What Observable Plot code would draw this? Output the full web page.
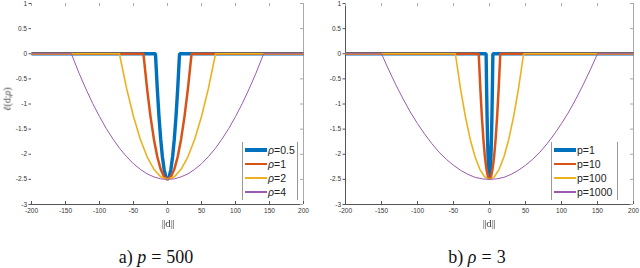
<!DOCTYPE html>
<html>
<head>
<meta charset="utf-8">
<script src="https://cdn.jsdelivr.net/npm/d3@7"></script>
<script src="https://cdn.jsdelivr.net/npm/@observablehq/plot@0.6"></script>
<style>
  html, body { margin: 0; padding: 0; background: #fff; }
  #wrap { position: relative; width: 640px; height: 268px; overflow: hidden; }
  .panel { position: absolute; top: 0; }
  .lbl { position: absolute; font-family: "Liberation Serif", "DejaVu Serif", serif; color: #444; white-space: nowrap; will-change: transform; opacity: 0.99; }
  .bars { letter-spacing: -0.5px; }
  .cap { position: absolute; font-family: "Liberation Serif", "DejaVu Serif", serif; color: #111; font-size: 18px; white-space: nowrap; transform: translate(-50%, -50%); }
  .cap .eq { margin: 0 5px; }
  .leg { position: absolute; border-left: 1px solid #999; border-right: 1px solid #999; box-sizing: border-box; }
  .row { position: absolute; left: 2px; height: 14px; display: flex; align-items: center; font-family: "Liberation Sans", Arial, sans-serif; font-size: 10.5px; color: #222; }
  .sw { display: inline-block; width: 22px; margin-right: 1px; }
</style>
</head>
<body>
<div id="wrap"></div>
<script>
// ---- data ----
const xTicks = [-200, -150, -100, -50, 0, 50, 100, 150, 200];
const yTicks = [1, 0.5, 0, -0.5, -1, -1.5, -2, -2.5, -3];

const colors = ["#0072BD", "#D95319", "#EDB120", "#9A5AAE"];
const widths = [3.4, 2.5, 1.6, 1.0];

// panel a) p = 500
const leftLabels = ["0.5", "1", "2", "4"];
const rho05X = [-200, -17.7, -15, -12.5, -10, -7.5, -5, -2.5, 0, 2.5, 5, 7.5, 10, 12.5, 15, 17.7, 200];
const rho05Y = [0, 0, -0.70, -1.25, -1.70, -2.05, -2.30, -2.45, -2.50, -2.45, -2.30, -2.05, -1.70, -1.25, -0.70, 0, 0];
const rho1X = [-200, -35.4, -30, -25, -20, -15, -10, -5, 0, 5, 10, 15, 20, 25, 30, 35.4, 200];
const rho1Y = [0, 0, -0.70, -1.25, -1.70, -2.05, -2.30, -2.45, -2.50, -2.45, -2.30, -2.05, -1.70, -1.25, -0.70, 0, 0];
const rho2X = [-200, -70.7, -60, -50, -40, -30, -20, -10, 0, 10, 20, 30, 40, 50, 60, 70.7, 200];
const rho2Y = [0, 0, -0.70, -1.25, -1.70, -2.05, -2.30, -2.45, -2.50, -2.45, -2.30, -2.05, -1.70, -1.25, -0.70, 0, 0];
const rho4X = [-200, -141.4, -130, -120, -110, -100, -90, -80, -70, -60, -50, -40, -30, -20, -10, 0,
               10, 20, 30, 40, 50, 60, 70, 80, 90, 100, 110, 120, 130, 141.4, 200];
const rho4Y = [0, 0, -0.39, -0.70, -0.99, -1.25, -1.49, -1.70, -1.89, -2.05, -2.19, -2.30, -2.39, -2.45, -2.49, -2.50,
               -2.49, -2.45, -2.39, -2.30, -2.19, -2.05, -1.89, -1.70, -1.49, -1.25, -0.99, -0.70, -0.39, 0, 0];

// panel b) rho = 3
const rightLabels = ["1", "10", "100", "1000"];
const p1X = [-200, -4.7, -4.0, -3.35, -2.7, -2.0, -1.3, -0.7, 0, 0.7, 1.3, 2.0, 2.7, 3.35, 4.0, 4.7, 200];
const p1Y = [0, 0, -0.70, -1.25, -1.70, -2.05, -2.30, -2.45, -2.50, -2.45, -2.30, -2.05, -1.70, -1.25, -0.70, 0, 0];
const p10X = [-200, -15, -12.7, -10.6, -8.5, -6.4, -4.2, -2.1, 0, 2.1, 4.2, 6.4, 8.5, 10.6, 12.7, 15, 200];
const p10Y = [0, 0, -0.70, -1.25, -1.70, -2.05, -2.30, -2.45, -2.50, -2.45, -2.30, -2.05, -1.70, -1.25, -0.70, 0, 0];
const p100X = [-200, -47.4, -40.2, -33.5, -26.8, -20.1, -13.4, -6.7, 0, 6.7, 13.4, 20.1, 26.8, 33.5, 40.2, 47.4, 200];
const p100Y = [0, 0, -0.70, -1.25, -1.70, -2.05, -2.30, -2.45, -2.50, -2.45, -2.30, -2.05, -1.70, -1.25, -0.70, 0, 0];
const p1000X = [-200, -150, -140, -130, -120, -110, -100, -90, -80, -70, -60, -50, -40, -30, -20, -10, 0,
                10, 20, 30, 40, 50, 60, 70, 80, 90, 100, 110, 120, 130, 140, 150, 200];
const p1000Y = [0, 0, -0.32, -0.62, -0.90, -1.16, -1.39, -1.60, -1.79, -1.96, -2.10, -2.22, -2.32, -2.40, -2.46, -2.49, -2.50,
                -2.49, -2.46, -2.40, -2.32, -2.22, -2.10, -1.96, -1.79, -1.60, -1.39, -1.16, -0.90, -0.62, -0.32, 0, 0];

// ---- drawing ----
function panel(series, {width, marginLeft, marginRight, leftLine}) {
  const H = 230, mt = 3, mb = 26;
  const pw = width - marginLeft - marginRight, ph = H - mt - mb;
  const marks = [];
  // frame lines
  marks.push(Plot.ruleY([-3], {stroke: "#555", strokeWidth: 1}));
  marks.push(Plot.ruleX([200], {stroke: "#aaa", strokeWidth: 1}));
  if (leftLine) marks.push(Plot.ruleX([-200], {stroke: "#555", strokeWidth: 1}));
  // inward ticks (bottom, top, right)
  marks.push(Plot.tickX(xTicks, {x: d => d, insetTop: ph - 3, stroke: "#555"}));
  marks.push(Plot.tickX(xTicks, {x: d => d, insetBottom: ph - 3, stroke: "#aaa"}));
  marks.push(Plot.tickY(yTicks, {y: d => d, insetLeft: pw - 3, stroke: "#aaa"}));
  // curves
  series.forEach((s, i) => {
    const data = s.x.map((x, j) => ({x, y: s.y[j]}));
    marks.push(Plot.line(data, {x: "x", y: "y", stroke: colors[i], strokeWidth: widths[i],
      strokeLinecap: "butt", strokeLinejoin: "miter"}));
  });
  // axes
  marks.push(Plot.axisX({ticks: xTicks, tickSize: 0, tickPadding: 4, tickFormat: d => String(d), label: null, fill: "#333"}));
  marks.push(Plot.axisY({ticks: yTicks, tickSize: 2.5, tickPadding: 2, tickFormat: d => String(d), label: null, fill: "#333", stroke: "#555"}));
  return Plot.plot({
    width, height: H, marginTop: mt, marginBottom: mb, marginLeft, marginRight,
    x: {domain: [-200, 200]}, y: {domain: [-3, 1]},
    style: {fontFamily: "'Liberation Sans', Arial, sans-serif", fontSize: "6.5px", color: "#333", background: "transparent", overflow: "visible"},
    marks
  });
}

const wrap = document.getElementById("wrap");

const left = panel([{x: rho05X, y: rho05Y}, {x: rho1X, y: rho1Y}, {x: rho2X, y: rho2Y}, {x: rho4X, y: rho4Y}],
  {width: 320, marginLeft: 31, marginRight: 17, leftLine: false});
left.classList.add("panel"); left.style.left = "0px";
wrap.appendChild(left);

const right = panel([{x: p1X, y: p1Y}, {x: p10X, y: p10Y}, {x: p100X, y: p100Y}, {x: p1000X, y: p1000Y}],
  {width: 320, marginLeft: 25, marginRight: 7, leftLine: true});
right.classList.add("panel"); right.style.left = "320px";
wrap.appendChild(right);

function addHTML(html) { const t = document.createElement("div"); t.innerHTML = html; const el = t.firstElementChild; wrap.appendChild(el); return el; }

// axis titles
addHTML(`<div class="lbl" style="left:7px;top:99px;font-size:10px;transform:translate(-50%,-50%) rotate(-90deg)"><i>ℓ</i>(d;<i>ρ</i>)</div>`);
addHTML(`<div class="lbl" style="left:168px;top:223px;font-size:11px;transform:translate(-50%,-50%)"><span class="bars">||</span>d<span class="bars">||</span></div>`);
addHTML(`<div class="lbl" style="left:489px;top:223px;font-size:11px;transform:translate(-50%,-50%)"><span class="bars">||</span>d<span class="bars">||</span></div>`);

// captions
addHTML(`<div class="cap" style="left:156px;top:257px">a) <i>p</i><span class="eq">=</span>500</div>`);
addHTML(`<div class="cap" style="left:477px;top:257px">b) <i>ρ</i><span class="eq">=</span>3</div>`);

// legends
function legend(x, w, labels, prefix) {
  const rows = labels.map((lab, i) =>
    `<div class="row" style="top:${1 + i * 14}px"><span class="sw" style="height:${Math.max(widths[i], 1.3)}px;background:${colors[i]}"></span><span>${prefix}=${lab}</span></div>`).join("");
  addHTML(`<div class="leg" style="left:${x}px;top:142px;width:${w}px;height:58px">${rows}</div>`);
}
legend(242, 56, leftLabels, "<i>ρ</i>");
legend(551, 67, rightLabels, "p");
</script>
</body>
</html>
